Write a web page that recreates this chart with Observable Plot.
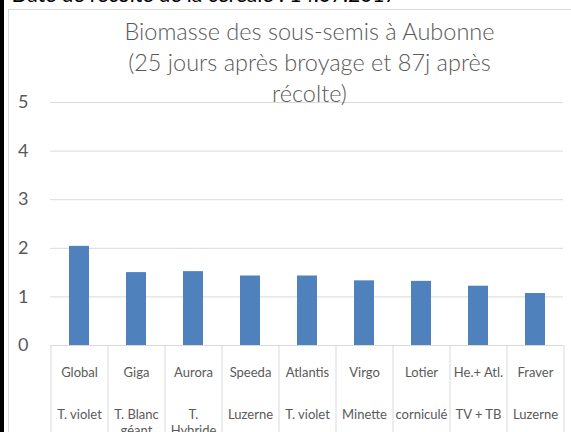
<!DOCTYPE html>
<html>
<head>
<meta charset="utf-8">
<script src="https://cdn.jsdelivr.net/npm/d3@7"></script>
<script src="https://cdn.jsdelivr.net/npm/@observablehq/plot@0.6"></script>
<style>
  html, body { margin: 0; padding: 0; background: white; overflow: hidden; }
  #wrap { position: relative; width: 571px; height: 432px; overflow: hidden; }
  #bar { position: absolute; left: 0; top: 0; width: 4px; height: 432px; background: #000; }
  #border { position: absolute; left: 8px; top: 9px; width: 700px; height: 600px; border: 1px solid #d9d9d9; pointer-events: none; }
</style>
</head>
<body>
<div id="wrap"><div id="chart"></div><div id="border"></div><div id="bar"></div></div>
<script>
const categories = ["Global", "Giga", "Aurora", "Speeda", "Atlantis", "Virgo", "Lotier", "He.+ Atl.", "Fraver"];
const species = ["T. violet", "T. Blanc géant", "T. Hybride", "Luzerne", "T. violet", "Minette", "corniculé", "TV + TB", "Luzerne"];
const values = [2.04, 1.50, 1.52, 1.43, 1.43, 1.33, 1.32, 1.22, 1.07];
const yTicks = [0, 1, 2, 3, 4, 5];
const title = "Biomasse des sous-semis à Aubonne\n(25 jours après broyage et 87j après\nrécolte)";
const header = "Date de récolte de la céréale : 14.07.2017";

const data = categories.map((c, i) => ({cat: c, species: species[i], value: values[i]}));
const grey = "#595959";
const font = "Lato, 'Open Sans', sans-serif";

const chart = Plot.plot({
  width: 571,
  height: 432,
  marginLeft: 50,
  marginRight: 8,
  marginTop: 102,
  marginBottom: 87,
  style: {fontFamily: font, color: grey, background: "transparent", overflow: "visible"},
  x: {domain: categories, paddingInner: 0.65, paddingOuter: 0.325, axis: null},
  y: {domain: [0, 5], axis: null},
  marks: [
    Plot.ruleY(yTicks, {stroke: "#d9d9d9", strokeWidth: 1}),
    Plot.ruleX(categories, {x: d => d, dx: -28.5, y1: 0, y2: -1.8, stroke: "#d9d9d9"}),
    Plot.ruleX(categories.slice(-1), {x: d => d, dx: 28.5, y1: 0, y2: -1.8, stroke: "#d9d9d9"}),
    Plot.barY(data, {x: "cat", y: "value", fill: "#4f81bd"}),
    Plot.axisY(yTicks, {tickSize: 0, tickPadding: 22, fontSize: 18, fill: grey, tickFormat: d => d, label: null}),
    Plot.text(data, {x: "cat", text: "cat", frameAnchor: "bottom", dy: 31, fontSize: 13, fill: grey}),
    Plot.text(data, {x: "cat", text: "species", frameAnchor: "bottom", lineAnchor: "top", dy: 61, fontSize: 13, fill: grey, lineWidth: 4.3, lineHeight: 1.3}),
    Plot.text([title], {text: d => d, frameAnchor: "top", dx: 2.5, dy: -85, lineAnchor: "top", fontSize: 23.5, lineHeight: 1.32, fill: grey, fontWeight: 300}),
    Plot.text([header], {text: d => d, frameAnchor: "top-left", dx: -39, dy: -100.5, textAnchor: "start", lineAnchor: "bottom", fontSize: 21, fill: "#000"})
  ]
});
document.getElementById("chart").appendChild(chart);
</script>
</body>
</html>
